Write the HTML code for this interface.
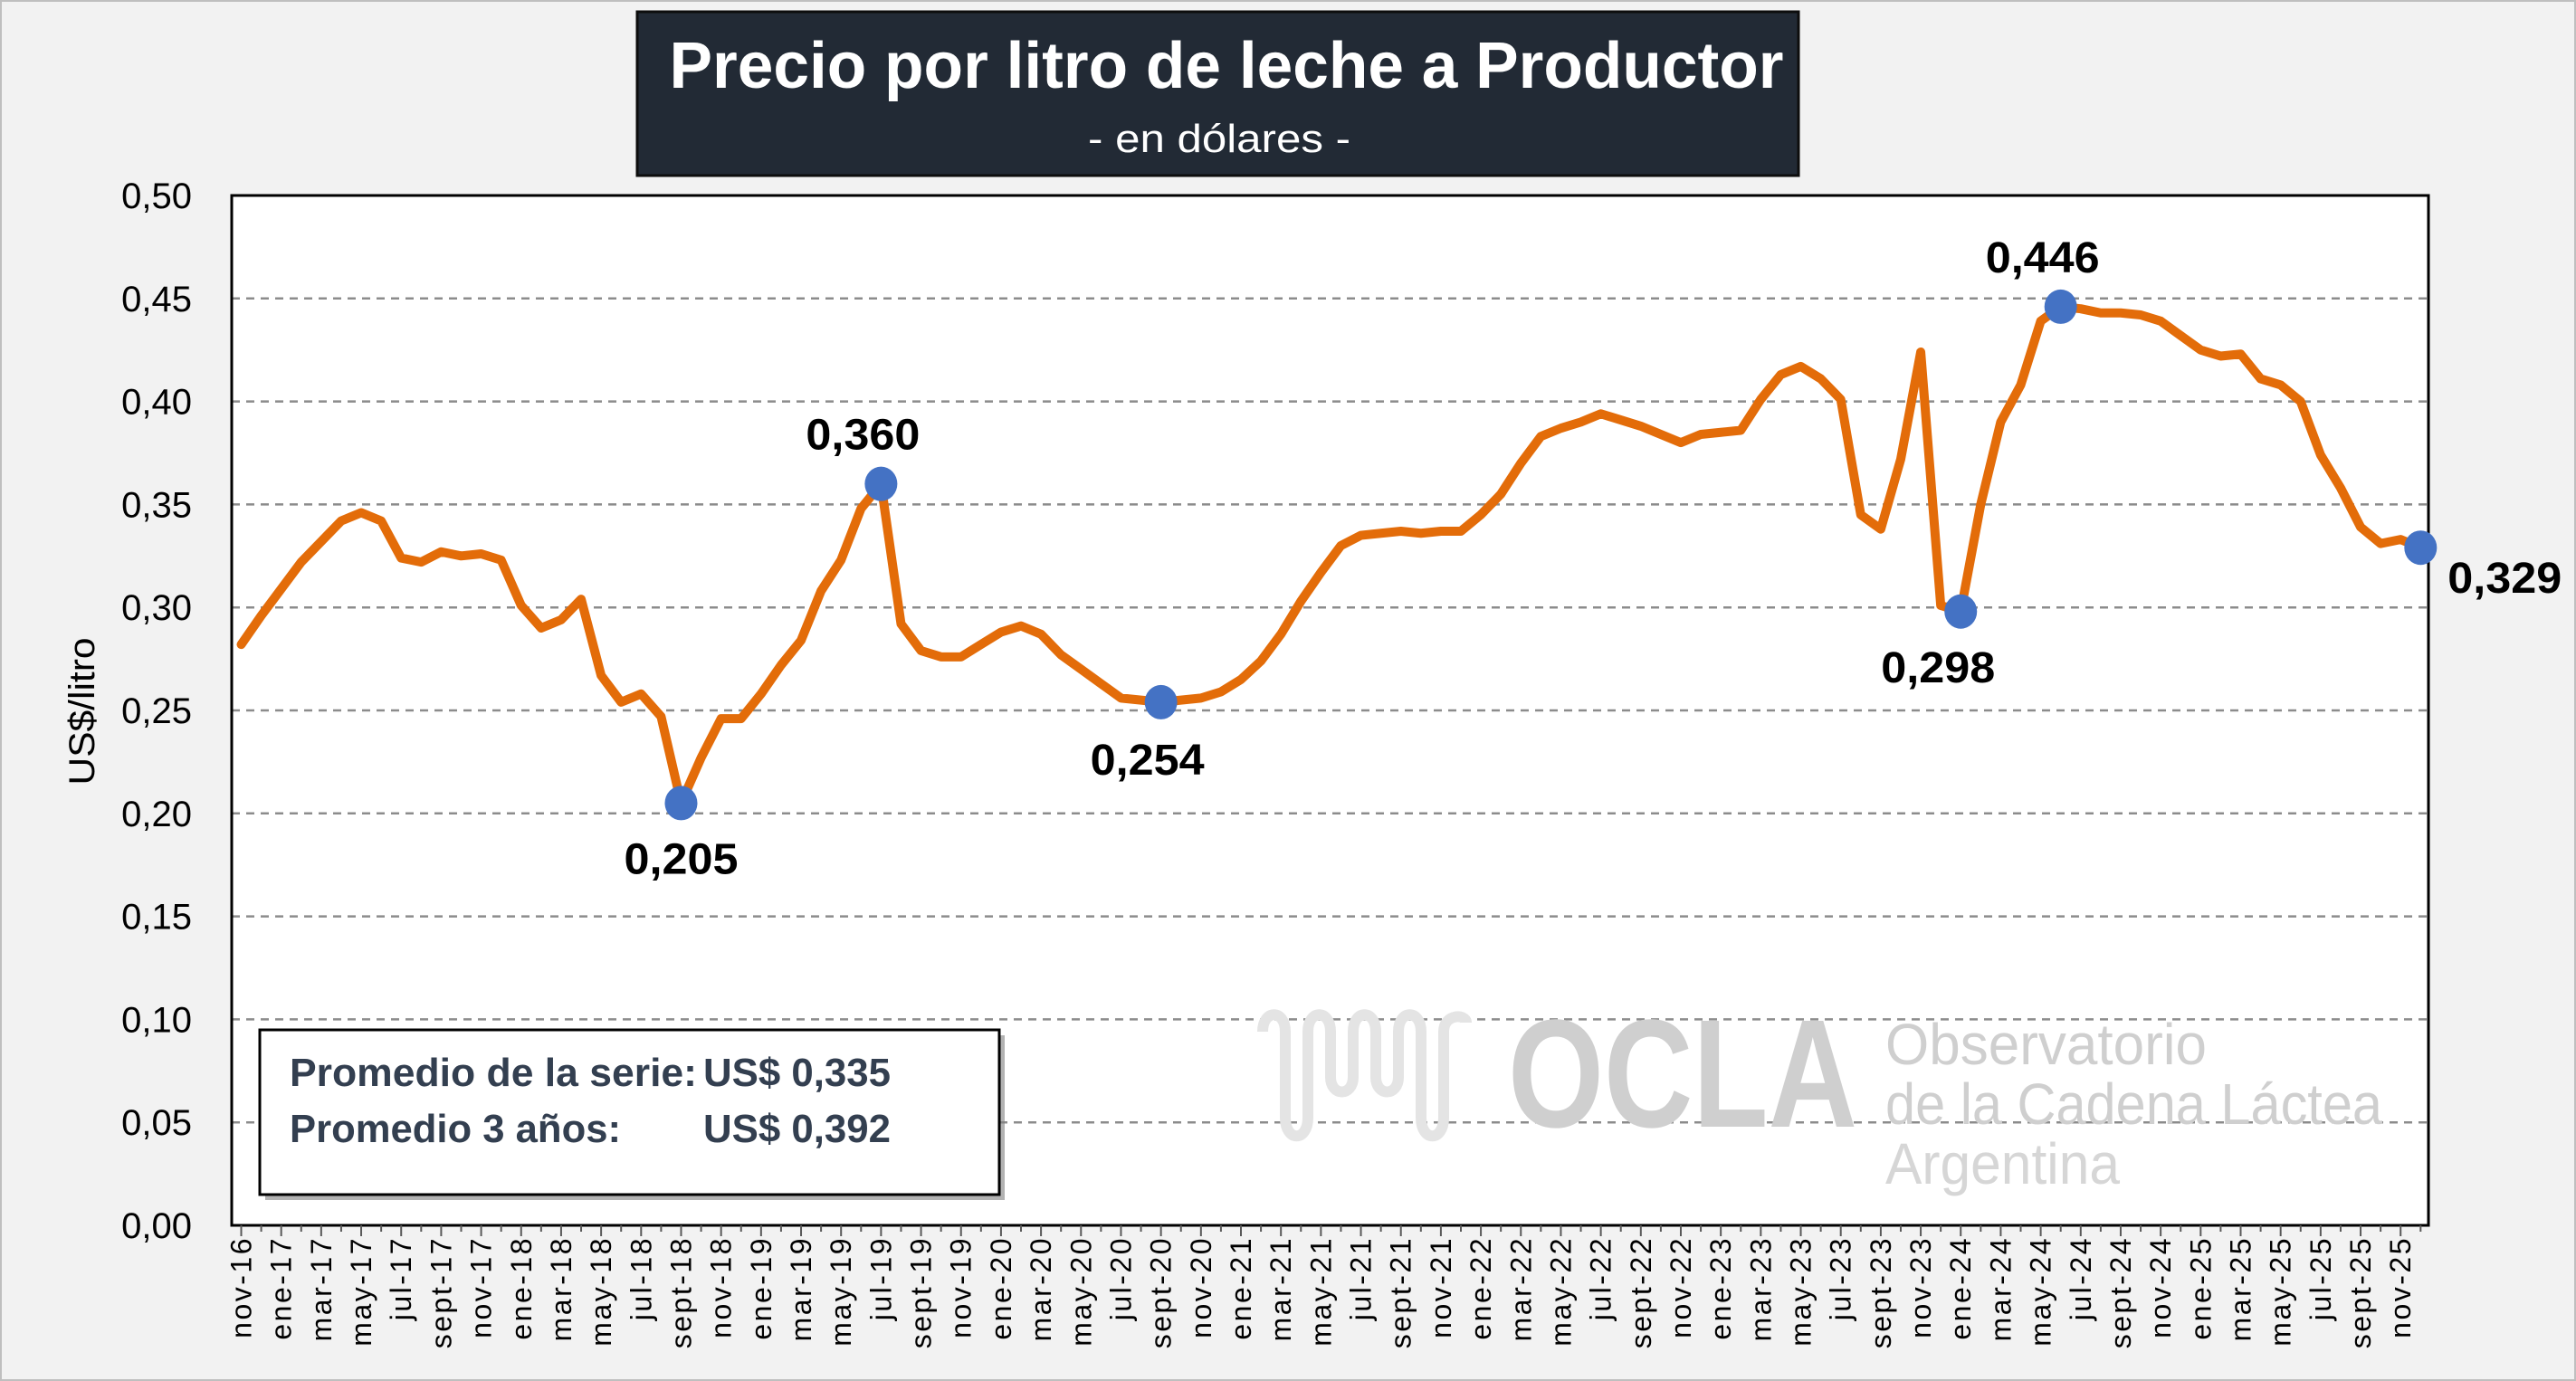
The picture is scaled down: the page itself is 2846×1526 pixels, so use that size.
<!DOCTYPE html>
<html><head><meta charset="utf-8">
<style>
html,body{margin:0;padding:0;background:#f2f2f2;}
svg{display:block;font-family:"Liberation Sans",sans-serif;}
</style></head>
<body>
<svg id="chart" width="2846" height="1526" viewBox="0 0 2846 1526">
  <rect x="1" y="1" width="2844" height="1524" fill="#f2f2f2" stroke="#bfbfbf" stroke-width="2"/>
  <g>
    <rect x="704" y="13" width="1283" height="181" fill="#222a35" stroke="#0d0d0d" stroke-width="3"/>
    <text x="1355" y="97" text-anchor="middle" font-size="72" font-weight="bold" fill="#fff" textLength="1231" lengthAdjust="spacingAndGlyphs">Precio por litro de leche a Productor</text>
    <text x="1347" y="168" text-anchor="middle" font-size="44" fill="#fff" textLength="290" lengthAdjust="spacingAndGlyphs">- en dólares -</text>
  </g>
  <rect x="256" y="216" width="2427" height="1138" fill="#fff"/>
  <g id="grid"></g>
  <g id="watermark">
    <path d="M1395 1140 C1395 1115,1420 1115,1420 1140 L1420 1235 C1420 1262,1445 1262,1445 1235 L1445 1140 C1445 1115,1470 1115,1470 1140 L1470 1190 C1470 1212,1495 1212,1495 1190 L1495 1140 C1495 1115,1520 1115,1520 1140 L1520 1190 C1520 1212,1545 1212,1545 1190 L1545 1140 C1545 1115,1570 1115,1570 1140 L1570 1235 C1570 1262,1595 1262,1595 1235 L1595 1140 C1595 1120,1620 1120,1620 1130" fill="none" stroke="#e4e4e4" stroke-width="12"/>
    <text x="1666" y="1245" font-size="170" font-weight="bold" fill="#cfcfcf" textLength="386" lengthAdjust="spacingAndGlyphs">OCLA</text>
    <text x="2083" y="1176" font-size="64" fill="#cfcfcf" textLength="355" lengthAdjust="spacingAndGlyphs">Observatorio</text>
    <text x="2083" y="1242" font-size="64" fill="#cfcfcf" textLength="549" lengthAdjust="spacingAndGlyphs">de la Cadena Láctea</text>
    <text x="2083" y="1308" font-size="64" fill="#d6d6d6" textLength="259" lengthAdjust="spacingAndGlyphs">Argentina</text>
  </g>
  <rect x="256" y="216" width="2427" height="1138" fill="none" stroke="#000" stroke-width="3"/>
  <g id="yaxis"></g>
  <g id="xaxis"></g>
  <text transform="translate(104,786) rotate(-90)" text-anchor="middle" font-size="40" fill="#000" textLength="163" lengthAdjust="spacingAndGlyphs">US$/litro</text>
  <g>
    <rect x="293" y="1144" width="817" height="182" fill="#7f7f7f" opacity="0.6"/>
    <rect x="287" y="1138" width="817" height="182" fill="#fff" stroke="#000" stroke-width="3"/>
    <text x="320" y="1200" font-size="44" font-weight="bold" fill="#333f50" textLength="450" lengthAdjust="spacingAndGlyphs">Promedio de la serie:</text>
    <text x="777" y="1200" font-size="44" font-weight="bold" fill="#333f50" textLength="207" lengthAdjust="spacingAndGlyphs">US$ 0,335</text>
    <text x="320" y="1262" font-size="44" font-weight="bold" fill="#333f50" textLength="366" lengthAdjust="spacingAndGlyphs">Promedio 3 años:</text>
    <text x="777" y="1262" font-size="44" font-weight="bold" fill="#333f50" textLength="207" lengthAdjust="spacingAndGlyphs">US$ 0,392</text>
  </g>
  <g id="series"></g>
  <g id="marks"></g>
</svg>
<script>
const monthNames = ["ene","feb","mar","abr","may","jun","jul","ago","sept","oct","nov","dic"];
const prices = [0.282,0.296,0.309,0.322,0.332,0.342,0.346,0.342,0.324,0.322,0.327,0.325,0.326,0.323,0.301,0.290,0.294,0.304,0.267,0.254,0.258,0.247,0.205,
0.227,0.246,0.246,0.258,0.272,0.284,0.308,0.323,0.348,0.360,
0.292,0.279,0.276,0.276,0.282,0.288,0.291,0.287,0.277,0.270,0.263,0.256,0.255,0.254,
0.255,0.256,0.259,0.265,0.274,0.287,0.303,0.317,0.330,0.335,0.336,0.337,0.336,0.337,
0.337,0.345,0.355,0.370,0.383,0.387,0.390,0.394,0.391,0.388,0.384,0.380,0.384,0.385,0.386,0.401,0.413,0.417,0.411,0.401,0.345,0.338,0.372,0.424,0.301,0.298,
0.350,0.390,0.408,0.439,0.446,0.445,0.443,0.443,0.442,0.439,0.432,0.425,0.422,0.423,0.411,0.408,0.400,0.374,0.358,0.339,0.331,0.333,0.329];
const yTicks = [0,0.05,0.10,0.15,0.20,0.25,0.30,0.35,0.40,0.45,0.50];
const highlightIdx = [22,32,46,86,91,109];
const highlightPos = ["below","above","below","below","above","right"];
const startYear = 2016, startMonth = 10;

const NS = "http://www.w3.org/2000/svg";
const X0 = 266.5, DX = 22.09, YTOP = 216, YBOT = 1354, YMAX = 0.5;
const xs = i => X0 + i * DX;
const ys = v => YBOT - (v / YMAX) * (YBOT - YTOP);
const fmt = (v, d) => v.toFixed(d).replace(".", ",");
function mk(tag, attrs, parent) { const e = document.createElementNS(NS, tag); for (const k in attrs) e.setAttribute(k, attrs[k]); parent.appendChild(e); return e; }

const grid = document.getElementById("grid"), yax = document.getElementById("yaxis"), xax = document.getElementById("xaxis");
yTicks.forEach(t => {
  if (t > 0 && t < YMAX) {
    const g = mk("line", {x1: 256, x2: 2683, y1: ys(t), y2: ys(t), stroke: "#8c8c8c", "stroke-width": 2.5, "stroke-dasharray": "9 7"}, grid);
    
    
  }
  const tl = mk("text", {x: 212, y: ys(t) + 14, "text-anchor": "end", "font-size": 40, fill: "#000"}, yax);
  tl.textContent = fmt(t, 2);
  
  
});

prices.forEach((v, i) => {
  const tk = mk("line", {x1: xs(i), x2: xs(i), y1: YBOT, y2: YBOT + (i % 2 === 0 ? 12 : 7), stroke: "#595959", "stroke-width": 2}, xax);
  
  
  if (i % 2 === 0) {
    const m = (startMonth + i) % 12, yr = (startYear + Math.floor((startMonth + i) / 12)) % 100;
    const lb = mk("text", {transform: `translate(${xs(i) + 11},1366) rotate(-90)`, "text-anchor": "end", "font-size": 32, "letter-spacing": 2.5, fill: "#000"}, xax);
    lb.textContent = monthNames[m] + "-" + yr;
    
    
  }
});

const series = document.getElementById("series");
const line = mk("polyline", {points: prices.map((v, i) => xs(i) + "," + ys(v)).join(" "), fill: "none", stroke: "#e36c09", "stroke-width": 10, "stroke-linejoin": "round", "stroke-linecap": "round"}, series);



const marks = document.getElementById("marks");
highlightIdx.forEach((i, k) => {
  const cx = xs(i), cy = ys(prices[i]);
  const d = mk("ellipse", {cx: cx, cy: cy, rx: 18, ry: 19, fill: "#4472c4"}, marks);
  
  
  const pos = highlightPos[k];
  let tx = cx, ty = cy, anchor = "middle";
  if (pos === "above") ty = cy - 38;
  else if (pos === "below") ty = cy + 78;
  else { tx = cx + 30; ty = cy + 50; anchor = "start"; }
  if (i === 46) { tx = cx - 15; ty = cy + 80; }
  if (i === 86) { tx = cx - 25; }
  if (i === 91) { tx = cx - 20; }
  if (i === 32) { tx = cx - 20; }
  const t = mk("text", {x: tx, y: ty, "text-anchor": anchor, "font-size": 48, "font-weight": "bold", fill: "#000", textLength: 126, lengthAdjust: "spacingAndGlyphs"}, marks);
  t.textContent = fmt(prices[i], 3);
  
  
});
</script>
</body></html>
